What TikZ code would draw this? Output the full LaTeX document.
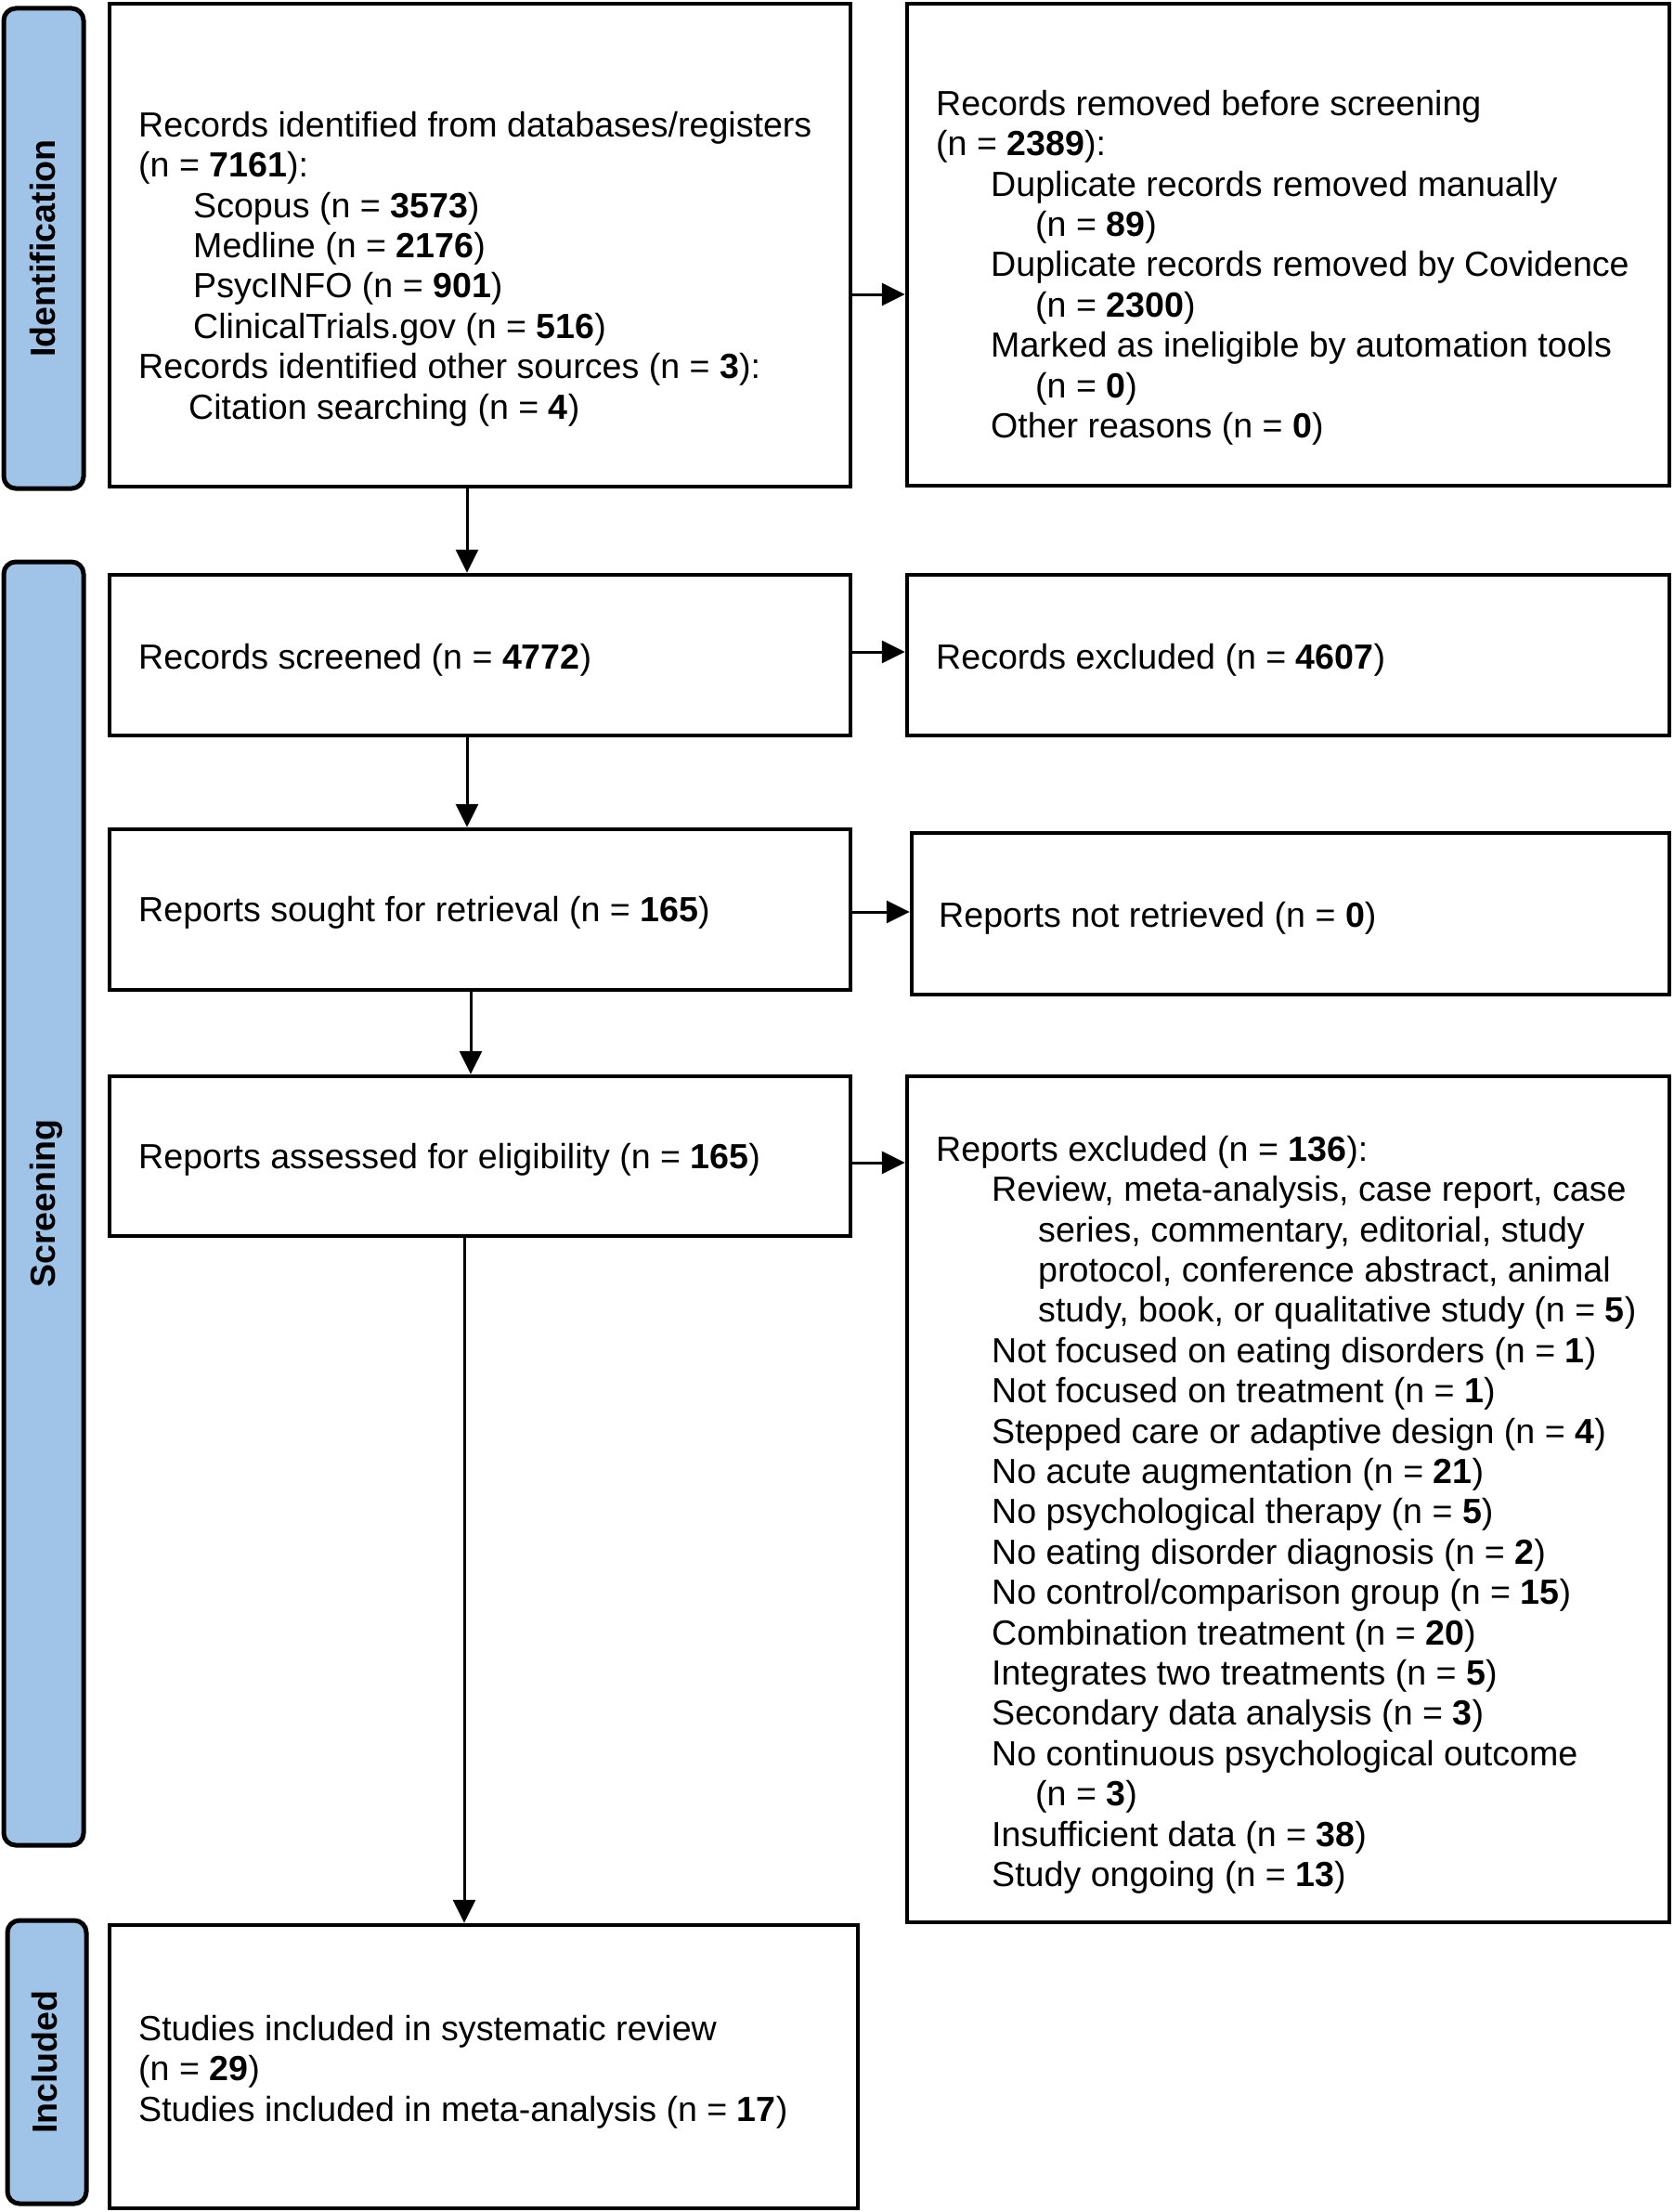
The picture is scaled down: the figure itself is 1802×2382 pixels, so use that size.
\documentclass[tikz,border=0pt]{standalone}
\usepackage{fontspec}
\setmainfont{Liberation Sans}
\usetikzlibrary{arrows.meta}
\definecolor{sidefill}{RGB}{160,196,231}
\begin{document}
\begin{tikzpicture}[x=1pt,y=-1pt,
  box/.style={draw=black, line width=4.5pt, inner sep=0pt, fill=white},
  side/.style={draw=black, line width=5pt, fill=sidefill, rounded corners=13pt, inner sep=0pt},
  txt/.style={anchor=north west, inner sep=0pt, align=left, font=\fontsize{37.6pt}{43.4pt}\selectfont},
  lab/.style={anchor=base, rotate=90, inner sep=0pt, font=\fontsize{37.6pt}{43.4pt}\selectfont\bfseries},
  arr/.style={line width=3pt, -{Triangle[length=25pt,width=24pt]}}
]
\useasboundingbox (0,0) rectangle (1802,2382);

% side bars
\node[side, minimum width=86pt, minimum height=517pt] (s1) at (47,267.5) {};
\node[side, minimum width=86pt, minimum height=1382pt] (s2) at (47,1296) {};
\node[side, minimum width=85pt, minimum height=305pt] (s3) at (50.5,2220.5) {};
\node[lab] (l1) at (59,267.5) {Identification};
\node[lab] (l2) at (59,1296) {Screening};
\node[lab] (l3) at (61,2220.5) {Included};

% boxes
\node[box, minimum width=798pt, minimum height=520pt] (b1) at (517,264) {};
\node[box, minimum width=821pt, minimum height=519pt] (b2) at (1387.5,263.5) {};
\node[box, minimum width=798pt, minimum height=173pt] (b3) at (517,705.5) {};
\node[box, minimum width=821pt, minimum height=173pt] (b4) at (1387.5,705.5) {};
\node[box, minimum width=798pt, minimum height=173pt] (b5) at (517,979.5) {};
\node[box, minimum width=816pt, minimum height=174pt] (b6) at (1390,984) {};
\node[box, minimum width=798pt, minimum height=172pt] (b7) at (517,1245) {};
\node[box, minimum width=821pt, minimum height=911pt] (b8) at (1387.5,1614.5) {};
\node[box, minimum width=806pt, minimum height=305pt] (b9) at (521,2225.5) {};

% texts
\node[txt] (t1) at (149,111) {\rule{0pt}{36pt}Records identified from databases/registers\\
(n = \textbf{7161}):\\
\hspace*{59pt}Scopus (n = \textbf{3573})\\
\hspace*{59pt}Medline (n = \textbf{2176})\\
\hspace*{59pt}PsycINFO (n = \textbf{901})\\
\hspace*{59pt}ClinicalTrials.gov (n = \textbf{516})\\
Records identified other sources (n = \textbf{3}):\\
\hspace*{54pt}Citation searching (n = \textbf{4})};

\node[txt] (t2) at (1008,88) {\rule{0pt}{36pt}Records removed before screening\\
(n = \textbf{2389}):\\
\hspace*{59pt}Duplicate records removed manually\\
\hspace*{107pt}(n = \textbf{89})\\
\hspace*{59pt}Duplicate records removed by Covidence\\
\hspace*{107pt}(n = \textbf{2300})\\
\hspace*{59pt}Marked as ineligible by automation tools\\
\hspace*{107pt}(n = \textbf{0})\\
\hspace*{59pt}Other reasons (n = \textbf{0})};

\node[txt] (t3) at (149,684) {\rule{0pt}{36pt}Records screened (n = \textbf{4772})};
\node[txt] (t4) at (1008,684) {\rule{0pt}{36pt}Records excluded (n = \textbf{4607})};
\node[txt] (t5) at (149,956) {\rule{0pt}{36pt}Reports sought for retrieval (n = \textbf{165})};
\node[txt] (t6) at (1011,962) {\rule{0pt}{36pt}Reports not retrieved (n = \textbf{0})};
\node[txt] (t7) at (149,1222) {\rule{0pt}{36pt}Reports assessed for eligibility (n = \textbf{165})};

\node[txt] (t8) at (1008,1214) {\rule{0pt}{36pt}Reports excluded (n = \textbf{136}):\\
\hspace*{60pt}Review, meta-analysis, case report, case\\
\hspace*{110pt}series, commentary, editorial, study\\
\hspace*{110pt}protocol, conference abstract, animal\\
\hspace*{110pt}study, book, or qualitative study (n = \textbf{5})\\
\hspace*{60pt}Not focused on eating disorders (n = \textbf{1})\\
\hspace*{60pt}Not focused on treatment (n = \textbf{1})\\
\hspace*{60pt}Stepped care or adaptive design (n = \textbf{4})\\
\hspace*{60pt}No acute augmentation (n = \textbf{21})\\
\hspace*{60pt}No psychological therapy (n = \textbf{5})\\
\hspace*{60pt}No eating disorder diagnosis (n = \textbf{2})\\
\hspace*{60pt}No control/comparison group (n = \textbf{15})\\
\hspace*{60pt}Combination treatment (n = \textbf{20})\\
\hspace*{60pt}Integrates two treatments (n = \textbf{5})\\
\hspace*{60pt}Secondary data analysis (n = \textbf{3})\\
\hspace*{60pt}No continuous psychological outcome\\
\hspace*{107pt}(n = \textbf{3})\\
\hspace*{60pt}Insufficient data (n = \textbf{38})\\
\hspace*{60pt}Study ongoing (n = \textbf{13})};

\node[txt] (t9) at (149,2161) {\rule{0pt}{36pt}Studies included in systematic review\\
(n = \textbf{29})\\
Studies included in meta-analysis (n = \textbf{17})};

% connector guide coordinates
\coordinate (xa) at (503,0);
\coordinate (xb) at (507,0);
\coordinate (xc) at (500,0);
\coordinate (ya) at (0,317);
\coordinate (yb) at (0,702);
\coordinate (yc) at (0,982);
\coordinate (yd) at (0,1252);

% vertical connectors
\draw[arr] (b1.south -| xa) -- (b3.north -| xa);
\draw[arr] (b3.south -| xa) -- (b5.north -| xa);
\draw[arr] (b5.south -| xb) -- (b7.north -| xb);
\draw[arr] (b7.south -| xc) -- (b9.north -| xc);
% horizontal connectors
\draw[arr] (b1.east |- ya) -- (b2.west |- ya);
\draw[arr] (b3.east |- yb) -- (b4.west |- yb);
\draw[arr] (b5.east |- yc) -- (b6.west |- yc);
\draw[arr] (b7.east |- yd) -- (b8.west |- yd);
\end{tikzpicture}
\end{document}
